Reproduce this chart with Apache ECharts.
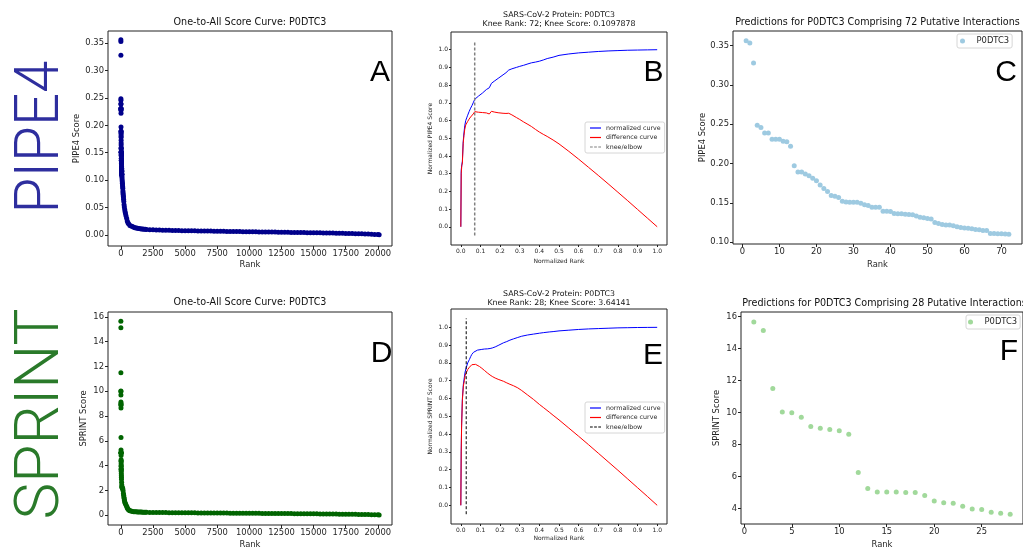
<!DOCTYPE html>
<html><head><meta charset="utf-8">
<script src="https://cdn.jsdelivr.net/npm/echarts@6/dist/echarts.min.js"></script>
<style>html,body{margin:0;padding:0;background:#fff;}#c{width:1023px;height:550px;}</style>
</head><body><div id="c"></div><script>
// ---------------- DATA ----------------
// PIPE4: top 72 predictions (ranks 1..72)
const pipe4Top = [0.3563,0.3534,0.328,0.2486,0.2457,0.2389,0.2389,0.2309,0.2309,0.2309,
0.2284,0.2275,0.222,0.1971,0.1891,0.1891,0.1866,0.1845,0.1811,0.1781,
0.1726,0.168,0.1642,0.1591,0.1583,0.1566,0.152,0.1511,0.1507,0.1507,
0.1507,0.1494,0.1473,0.1465,0.1443,0.1443,0.1443,0.1393,0.1393,0.1389,
0.1363,0.1359,0.1359,0.1355,0.1351,0.1347,0.133,0.1317,0.1309,0.13,
0.1292,0.125,0.1237,0.1224,0.1216,0.1216,0.1207,0.1194,0.1186,0.1178,
0.1174,0.1169,0.1161,0.1157,0.1148,0.1148,0.111,0.111,0.1106,0.1106,
0.1102,0.1098];
// PIPE4: knee region beyond the top 72
const pipe4MidRanks = [80,90,100,110,120,130,140,150,160,170,180,190,200,215,230,250,270,300,330,360,400,450,500,550,600,700,800,900,1000,1100,1200,1300,1400,1500,1600,1700,1800,1900];
const pipe4MidScores = [0.107,0.104,0.100,0.097,0.094,0.091,0.088,0.085,0.080,0.077,0.074,0.071,0.069,0.065,0.061,0.055,0.051,0.046,0.042,0.039,0.035,0.030,0.025,0.022,0.020,0.017,0.016,0.015,0.014,0.013,0.0125,0.012,0.0115,0.011,0.0107,0.0104,0.0101,0.0099];
// long tail ranks (shared by both methods)
const tailRanks = [2000,2250,2500,2750,3000,3250,3500,3750,4000,4250,4500,4750,5000,5250,5500,5750,6000,6250,6500,6750,7000,7250,7500,7750,8000,8250,8500,8750,9000,9250,9500,9750,10000,10250,10500,10750,11000,11250,11500,11750,12000,12250,12500,12750,13000,13250,13500,13750,14000,14250,14500,14750,15000,15250,15500,15750,16000,16250,16500,16750,17000,17250,17500,17750,18000,18250,18500,18750,19000,19250,19500,19750,20000,20100];
const pipe4TailScores = [0.0097,0.0093,0.0090,0.0088,0.0086,0.0084,0.0082,0.0081,0.0079,0.0078,
0.0077,0.0076,0.0075,0.0074,0.0073,0.0072,0.0071,0.0070,0.0069,0.0068,
0.0067,0.0066,0.0065,0.0064,0.0063,0.0062,0.0061,0.0060,0.0059,0.0058,
0.0057,0.0057,0.0056,0.0055,0.0054,0.0053,0.0052,0.0051,0.0050,0.0050,
0.0049,0.0048,0.0047,0.0046,0.0045,0.0044,0.0043,0.0042,0.0041,0.0040,
0.0039,0.0038,0.0037,0.0036,0.0035,0.0034,0.0033,0.0032,0.0031,0.0029,
0.0028,0.0027,0.0025,0.0024,0.0022,0.0021,0.0019,0.0017,0.0015,0.0013,
0.0010,0.0007,0.0004,0.0001];
// SPRINT: top 28 predictions (ranks 1..28)
const sprintTop = [15.65,15.12,11.49,10.03,9.99,9.70,9.13,9.01,8.94,8.86,8.64,6.26,5.25,5.03,5.03,5.03,5.01,5.01,4.82,4.47,4.37,4.33,4.14,3.98,3.94,3.77,3.71,3.641];
const sprintMidRanks = [30,35,40,45,50,60,70,80,90,100,125,150,175,200,220,240,260,280,300,330,370,420,470,500,550,600,650,700,800,900,1000,1100,1200,1300,1400,1500,1600,1700,1800,1900];
const sprintMidScores = [3.55,3.35,3.2,3.05,2.9,2.65,2.42,2.28,2.24,2.2,2.15,2.12,1.97,1.74,1.6,1.45,1.32,1.2,1.08,0.98,0.9,0.77,0.67,0.58,0.5,0.43,0.4,0.36,0.33,0.3,0.28,0.27,0.26,0.255,0.25,0.245,0.24,0.235,0.23,0.226];
const sprintTailScores = [0.222,0.218,0.214,0.21,0.207,0.204,0.201,0.198,0.195,0.193,
0.19,0.188,0.186,0.184,0.182,0.18,0.178,0.176,0.174,0.172,
0.17,0.168,0.166,0.164,0.162,0.16,0.158,0.156,0.154,0.152,
0.15,0.148,0.146,0.144,0.142,0.14,0.138,0.136,0.134,0.132,
0.13,0.128,0.126,0.124,0.122,0.12,0.118,0.116,0.114,0.111,
0.108,0.105,0.102,0.099,0.096,0.093,0.09,0.087,0.084,0.081,
0.078,0.075,0.071,0.067,0.063,0.059,0.055,0.05,0.045,0.04,
0.034,0.027,0.018,0.01];
// Knee plots (normalized)
const kneeXB = [0,0.002,0.005,0.008,0.012,0.016,0.02,0.025,0.03,0.035,0.042,0.05,0.057,0.063,0.071,0.08,0.09,0.1,0.11,0.12,0.13,0.14,0.145,0.15,0.156,0.16,0.17,0.18,0.19,0.2,0.215,0.23,0.244,0.26,0.283,0.3,0.32,0.342,0.36,0.38,0.4,0.42,0.44,0.47,0.5,0.55,0.6,0.65,0.7,0.75,0.8,0.85,0.9,0.95,1.0];
const normCurveB = [0,0.32,0.35,0.37,0.48,0.53,0.57,0.6,0.615,0.63,0.65,0.67,0.685,0.70,0.72,0.73,0.738,0.745,0.755,0.765,0.775,0.78,0.785,0.795,0.81,0.815,0.822,0.83,0.838,0.845,0.858,0.87,0.885,0.892,0.9,0.906,0.912,0.92,0.926,0.93,0.935,0.942,0.95,0.958,0.968,0.976,0.982,0.986,0.99,0.993,0.995,0.997,0.998,0.999,1.0];
const diffCurveB = [0,0.3,0.345,0.36,0.47,0.515,0.55,0.575,0.585,0.595,0.608,0.62,0.628,0.637,0.65,0.649,0.647,0.646,0.645,0.645,0.643,0.638,0.637,0.645,0.652,0.65,0.648,0.646,0.644,0.642,0.641,0.64,0.641,0.632,0.617,0.606,0.592,0.578,0.566,0.55,0.535,0.522,0.51,0.49,0.468,0.426,0.382,0.336,0.29,0.243,0.195,0.147,0.098,0.049,0];
const kneeB = 0.0707;
const kneeXE = [0,0.002,0.004,0.008,0.013,0.018,0.022,0.028,0.035,0.044,0.05,0.056,0.065,0.075,0.085,0.095,0.107,0.12,0.135,0.149,0.16,0.175,0.19,0.2,0.217,0.234,0.25,0.268,0.29,0.31,0.34,0.37,0.4,0.42,0.45,0.47,0.5,0.55,0.6,0.65,0.7,0.75,0.8,0.85,0.9,0.95,1.0];
const normCurveE = [0,0.3,0.45,0.6,0.68,0.72,0.75,0.775,0.8,0.82,0.835,0.848,0.86,0.868,0.872,0.874,0.876,0.878,0.879,0.881,0.884,0.89,0.898,0.905,0.913,0.92,0.928,0.935,0.943,0.95,0.957,0.962,0.967,0.97,0.974,0.976,0.98,0.984,0.988,0.991,0.993,0.995,0.997,0.998,0.999,0.9995,1.0];
const diffCurveE = [0,0.3,0.44,0.59,0.67,0.7,0.73,0.745,0.763,0.776,0.785,0.79,0.793,0.792,0.787,0.78,0.77,0.758,0.744,0.732,0.724,0.715,0.708,0.705,0.697,0.688,0.68,0.672,0.66,0.645,0.62,0.595,0.567,0.55,0.524,0.506,0.48,0.434,0.388,0.341,0.293,0.245,0.197,0.148,0.099,0.05,0];
const kneeE = 0.0275;
const kneeSpan = [-0.05, 1.05];
// tick values
const rankTicks = [0,2500,5000,7500,10000,12500,15000,17500,20000];
const pipe4Ticks = [0,0.05,0.1,0.15,0.2,0.25,0.3,0.35];
const sprintTicks = [0,2,4,6,8,10,12,14,16];
const normTicks = [0,0.1,0.2,0.3,0.4,0.5,0.6,0.7,0.8,0.9,1.0];
const predRankTicksC = [0,10,20,30,40,50,60,70];
const predScoreTicksC = [0.10,0.15,0.20,0.25,0.30,0.35];
const predRankTicksF = [0,5,10,15,20,25];
const predScoreTicksF = [4,6,8,10,12,14,16];

// ---------------- BUILD ----------------
const FONT = '"DejaVu Sans"';
const TXT = '#262626';
const pairs = (xs, ys) => xs.map((x, i) => [x, ys[i]]);
const withRank = arr => arr.map((v, i) => [i + 1, v]);

const pipe4All = withRank(pipe4Top).concat(pairs(pipe4MidRanks, pipe4MidScores), pairs(tailRanks, pipe4TailScores));
const sprintAll = withRank(sprintTop).concat(pairs(sprintMidRanks, sprintMidScores), pairs(tailRanks, sprintTailScores));

function ax(o) {
  return {
    type: 'value', gridIndex: o.g, min: o.min, max: o.max,
    name: o.name, nameLocation: 'middle', nameGap: o.nameGap,
    nameTextStyle: { fontFamily: FONT, fontSize: o.nfs, color: TXT },
    axisLine: { show: false, onZero: false }, splitLine: { show: false },
    axisTick: { show: true, inside: false, length: o.tl, customValues: o.ticks, lineStyle: { color: '#222', width: 1 } },
    axisLabel: { customValues: o.ticks, formatter: o.fmt, fontFamily: FONT, fontSize: o.fs, color: TXT, margin: o.margin, showMinLabel: true, showMaxLabel: true }
  };
}
const f0 = v => String(v), f1 = v => v.toFixed(1), f2 = v => v.toFixed(2);
const gridStyle = { show: true, borderColor: '#222', borderWidth: 1, backgroundColor: 'transparent', containLabel: false };

const big = { fs: 8.4, nfs: 8.4, tl: 3, margin: 4 };
const sm = { fs: 6, nfs: 6, tl: 2, margin: 3 };

const ICON_SOLID = 'path://M0,0h12v1h-12z';
const ICON_DASH = 'path://M0,0h3v1h-3z M4.5,0h3v1h-3z M9,0h3v1h-3z';
function lineLegend(prefix, top) {
  return { orient: 'vertical', left: 585, top: top,
    data: [{ name: prefix + '|normalized curve', icon: ICON_SOLID }, { name: prefix + '|difference curve', icon: ICON_SOLID }, { name: prefix + '|knee/elbow', icon: ICON_DASH }],
    formatter: n => n.split('|')[1], itemWidth: 11, itemHeight: 1.2, itemGap: 3.5, symbolKeepAspect: false, selectedMode: false,
    textStyle: { fontFamily: FONT, fontSize: 6.3, color: TXT }, borderColor: '#d6d6d6', borderWidth: 1, borderRadius: 2,
    padding: [3, 4, 3, 5], backgroundColor: 'rgba(255,255,255,0.8)' };
}

const option = {
  animation: false,
  backgroundColor: '#fff',
  grid: [
    Object.assign({ left: 108, top: 31, width: 284, height: 215 }, gridStyle),
    Object.assign({ left: 451, top: 32, width: 216, height: 213 }, gridStyle),
    Object.assign({ left: 733, top: 31, width: 289, height: 213 }, gridStyle),
    Object.assign({ left: 108, top: 312, width: 284, height: 215 }, gridStyle),
    Object.assign({ left: 451, top: 309, width: 216, height: 215 }, gridStyle),
    Object.assign({ left: 741, top: 312, width: 287, height: 214 }, gridStyle)
  ],
  xAxis: [
    ax(Object.assign({ g: 0, min: -1000, max: 21100, ticks: rankTicks, fmt: f0, name: 'Rank', nameGap: 15 }, big)),
    ax(Object.assign({ g: 1, min: -0.05, max: 1.05, ticks: normTicks, fmt: f1, name: 'Normalized Rank', nameGap: 13 }, sm)),
    ax(Object.assign({ g: 2, min: -2.55, max: 75.55, ticks: predRankTicksC, fmt: f0, name: 'Rank', nameGap: 17 }, big)),
    ax(Object.assign({ g: 3, min: -1000, max: 21100, ticks: rankTicks, fmt: f0, name: 'Rank', nameGap: 16 }, big)),
    ax(Object.assign({ g: 4, min: -0.05, max: 1.05, ticks: normTicks, fmt: f1, name: 'Normalized Rank', nameGap: 11 }, sm)),
    ax(Object.assign({ g: 5, min: -0.35, max: 29.35, ticks: predRankTicksF, fmt: f0, name: 'Rank', nameGap: 17 }, big))
  ],
  yAxis: [
    ax(Object.assign({ g: 0, min: -0.0205, max: 0.3725, ticks: pipe4Ticks, fmt: f2, name: 'PIPE4 Score', nameGap: 27 }, big)),
    ax(Object.assign({ g: 1, min: -0.103, max: 1.1, ticks: normTicks, fmt: f1, name: 'Normalized PIPE4 Score', nameGap: 18 }, sm)),
    ax(Object.assign({ g: 2, min: 0.0975, max: 0.3686, ticks: predScoreTicksC, fmt: f2, name: 'PIPE4 Score', nameGap: 26 }, big)),
    ax(Object.assign({ g: 3, min: -0.8, max: 16.4, ticks: sprintTicks, fmt: f0, name: 'SPRINT Score', nameGap: 20 }, big)),
    ax(Object.assign({ g: 4, min: -0.105, max: 1.103, ticks: normTicks, fmt: f1, name: 'Normalized SPRINT Score', nameGap: 18 }, sm)),
    ax(Object.assign({ g: 5, min: 3.04, max: 16.27, ticks: predScoreTicksF, fmt: f0, name: 'SPRINT Score', nameGap: 20 }, big))
  ],
  legend: [
    lineLegend('B', 122),
    lineLegend('E', 402),
    { left: 957, top: 34, data: ['C|P0DTC3'], formatter: n => n.split('|')[1], icon: 'circle', itemWidth: 18, itemHeight: 5,
      selectedMode: false, textStyle: { fontFamily: FONT, fontSize: 8.4, color: TXT }, borderColor: '#d6d6d6', borderWidth: 1,
      borderRadius: 2, padding: [3, 3, 3, 3], backgroundColor: 'rgba(255,255,255,0.8)' },
    { left: 966, top: 315, data: ['F|P0DTC3'], formatter: n => n.split('|')[1], icon: 'circle', itemWidth: 18, itemHeight: 5,
      selectedMode: false, textStyle: { fontFamily: FONT, fontSize: 8.4, color: TXT }, borderColor: '#d6d6d6', borderWidth: 1,
      borderRadius: 2, padding: [3, 3, 3, 2], backgroundColor: 'rgba(255,255,255,0.8)' }
  ],
  series: [
    { type: 'scatter', name: 'A', xAxisIndex: 0, yAxisIndex: 0, symbolSize: 5, itemStyle: { color: '#00008b', opacity: 1 }, data: pipe4All },
    { type: 'line', name: 'B|normalized curve', xAxisIndex: 1, yAxisIndex: 1, symbol: 'none', lineStyle: { color: '#0000ff', width: 1 }, itemStyle: { color: '#0000ff' }, data: pairs(kneeXB, normCurveB) },
    { type: 'line', name: 'B|difference curve', xAxisIndex: 1, yAxisIndex: 1, symbol: 'none', lineStyle: { color: '#ff0000', width: 1 }, itemStyle: { color: '#ff0000' }, data: pairs(kneeXB, diffCurveB) },
    { type: 'line', name: 'B|knee/elbow', xAxisIndex: 1, yAxisIndex: 1, symbol: 'none', lineStyle: { color: '#808080', width: 1.5, type: [3, 2] }, itemStyle: { color: '#808080' }, data: kneeSpan.map(y => [kneeB, y]) },
    { type: 'scatter', name: 'C|P0DTC3', xAxisIndex: 2, yAxisIndex: 2, symbolSize: 5, itemStyle: { color: '#9ecae1', opacity: 1 }, data: withRank(pipe4Top) },
    { type: 'scatter', name: 'D', xAxisIndex: 3, yAxisIndex: 3, symbolSize: 5, itemStyle: { color: '#006400', opacity: 1 }, data: sprintAll },
    { type: 'line', name: 'E|normalized curve', xAxisIndex: 4, yAxisIndex: 4, symbol: 'none', lineStyle: { color: '#0000ff', width: 1 }, itemStyle: { color: '#0000ff' }, data: pairs(kneeXE, normCurveE) },
    { type: 'line', name: 'E|difference curve', xAxisIndex: 4, yAxisIndex: 4, symbol: 'none', lineStyle: { color: '#ff0000', width: 1 }, itemStyle: { color: '#ff0000' }, data: pairs(kneeXE, diffCurveE) },
    { type: 'line', name: 'E|knee/elbow', xAxisIndex: 4, yAxisIndex: 4, symbol: 'none', lineStyle: { color: '#000000', width: 1, type: [3, 2] }, itemStyle: { color: '#000000' }, data: kneeSpan.map(y => [kneeE, y]) },
    { type: 'scatter', name: 'F|P0DTC3', xAxisIndex: 5, yAxisIndex: 5, symbolSize: 5, itemStyle: { color: '#a1d99b', opacity: 1 }, data: withRank(sprintTop) }
  ],
  graphic: [
    { type: 'text', x: 250, y: 22.7, style: { text: 'One-to-All Score Curve: P0DTC3', font: '9.6px ' + FONT, fill: '#111', align: 'center', verticalAlign: 'middle' } },
    { type: 'text', x: 559, y: 14.7, style: { text: 'SARS-CoV-2 Protein: P0DTC3', font: '7.8px ' + FONT, fill: '#111', align: 'center', verticalAlign: 'middle' } },
    { type: 'text', x: 559, y: 24, style: { text: 'Knee Rank: 72; Knee Score: 0.1097878', font: '7.8px ' + FONT, fill: '#111', align: 'center', verticalAlign: 'middle' } },
    { type: 'text', x: 877.5, y: 22.7, style: { text: 'Predictions for P0DTC3 Comprising 72 Putative Interactions', font: '9.6px ' + FONT, fill: '#111', align: 'center', verticalAlign: 'middle' } },
    { type: 'text', x: 250, y: 302.7, style: { text: 'One-to-All Score Curve: P0DTC3', font: '9.6px ' + FONT, fill: '#111', align: 'center', verticalAlign: 'middle' } },
    { type: 'text', x: 559, y: 294, style: { text: 'SARS-CoV-2 Protein: P0DTC3', font: '7.8px ' + FONT, fill: '#111', align: 'center', verticalAlign: 'middle' } },
    { type: 'text', x: 559, y: 303.3, style: { text: 'Knee Rank: 28; Knee Score: 3.64141', font: '7.8px ' + FONT, fill: '#111', align: 'center', verticalAlign: 'middle' } },
    { type: 'text', x: 884.5, y: 303.3, style: { text: 'Predictions for P0DTC3 Comprising 28 Putative Interactions', font: '9.6px ' + FONT, fill: '#111', align: 'center', verticalAlign: 'middle' } },
    { type: 'text', x: 380, y: 73, style: { text: 'A', font: '30px "Liberation Sans"', fill: '#000', align: 'center', verticalAlign: 'middle' } },
    { type: 'text', x: 653.5, y: 73, style: { text: 'B', font: '30px "Liberation Sans"', fill: '#000', align: 'center', verticalAlign: 'middle' } },
    { type: 'text', x: 1006, y: 73, style: { text: 'C', font: '30px "Liberation Sans"', fill: '#000', align: 'center', verticalAlign: 'middle' } },
    { type: 'text', x: 381.5, y: 354, style: { text: 'D', font: '30px "Liberation Sans"', fill: '#000', align: 'center', verticalAlign: 'middle' } },
    { type: 'text', x: 653, y: 356, style: { text: 'E', font: '30px "Liberation Sans"', fill: '#000', align: 'center', verticalAlign: 'middle' } },
    { type: 'text', x: 1009, y: 352, style: { text: 'F', font: '30px "Liberation Sans"', fill: '#000', align: 'center', verticalAlign: 'middle' } },
    { type: 'text', x: 42, y: 137, rotation: Math.PI / 2, scaleX: 0.94, style: { text: 'PIPE4', font: '300 62px Roboto', fill: '#2e2e9e', align: 'center', verticalAlign: 'middle' } },
    { type: 'text', x: 42, y: 414, rotation: Math.PI / 2, style: { text: 'SPRINT', font: '300 62px Roboto', fill: '#2a7a2a', align: 'center', verticalAlign: 'middle' } }
  ]
};
const chart = echarts.init(document.getElementById('c'));
chart.setOption(option);
</script></body></html>
